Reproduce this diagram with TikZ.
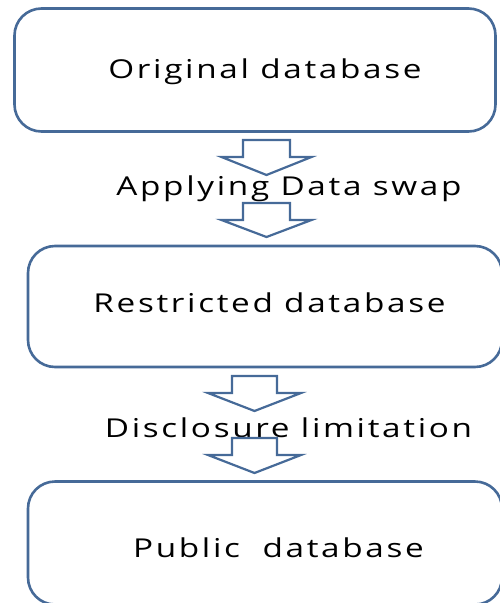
\documentclass[tikz,border=0pt]{standalone}
\usepackage{fontspec}
\setmainfont{Open Sans}[LetterSpace=8]
\newcommand{\widetxt}[1]{\scalebox{1.28}[1]{#1}}
\begin{document}
\begin{tikzpicture}[x=1pt,y=-1pt,
  boxstyle/.style={draw=edgeblue, line width=2.6pt, rounded corners=27pt, rectangle, inner sep=0pt, fill=white},
  txtstyle/.style={font=\fontsize{26}{30}\selectfont, anchor=base, inner sep=0pt, text=black},
  arrstyle/.style={draw=edgeblue, line width=2.2pt, fill=white, line join=miter}]
\definecolor{edgeblue}{RGB}{70,106,152}
\useasboundingbox (0,0) rectangle (500,603);
\clip (0,0) rectangle (500,603);
\newcommand{\blockarr}[6]{%
  \draw[arrstyle] (#1-#5,#2) -- (#1+#5,#2) -- (#1+#5,#3) -- (#1+#6,#3) -- (#1,#4) -- (#1-#6,#3) -- (#1-#5,#3) -- cycle;}
\node[boxstyle, minimum width=481pt, minimum height=123pt] (orig) at (255,70) {};
\node[boxstyle, minimum width=474pt, minimum height=121pt] (restr) at (265,306.5) {};
\node[boxstyle, minimum width=474pt, minimum height=123pt] (pub) at (265,543) {};
\node[txtstyle] (torig) at (265,78) {\widetxt{Original database}};
\node[txtstyle] (tapply) at (289,195) {\widetxt{Applying Data swap}};
\node[txtstyle] (trestr) at (269.5,312) {\widetxt{Restricted database}};
\node[txtstyle] (tdisc) at (288.5,437) {\widetxt{Disclosure limitation}};
\node[txtstyle] (tpub) at (278.5,557) {\widetxt{Public\ \ database}};
\blockarr{266.5}{140}{157}{175}{23.5}{45}
\blockarr{266.5}{203}{220}{237}{23.5}{45}
\blockarr{254.5}{376}{393}{411}{22.5}{46.5}
\blockarr{254.5}{438}{455}{473}{22.5}{46.5}
\end{tikzpicture}
\end{document}
